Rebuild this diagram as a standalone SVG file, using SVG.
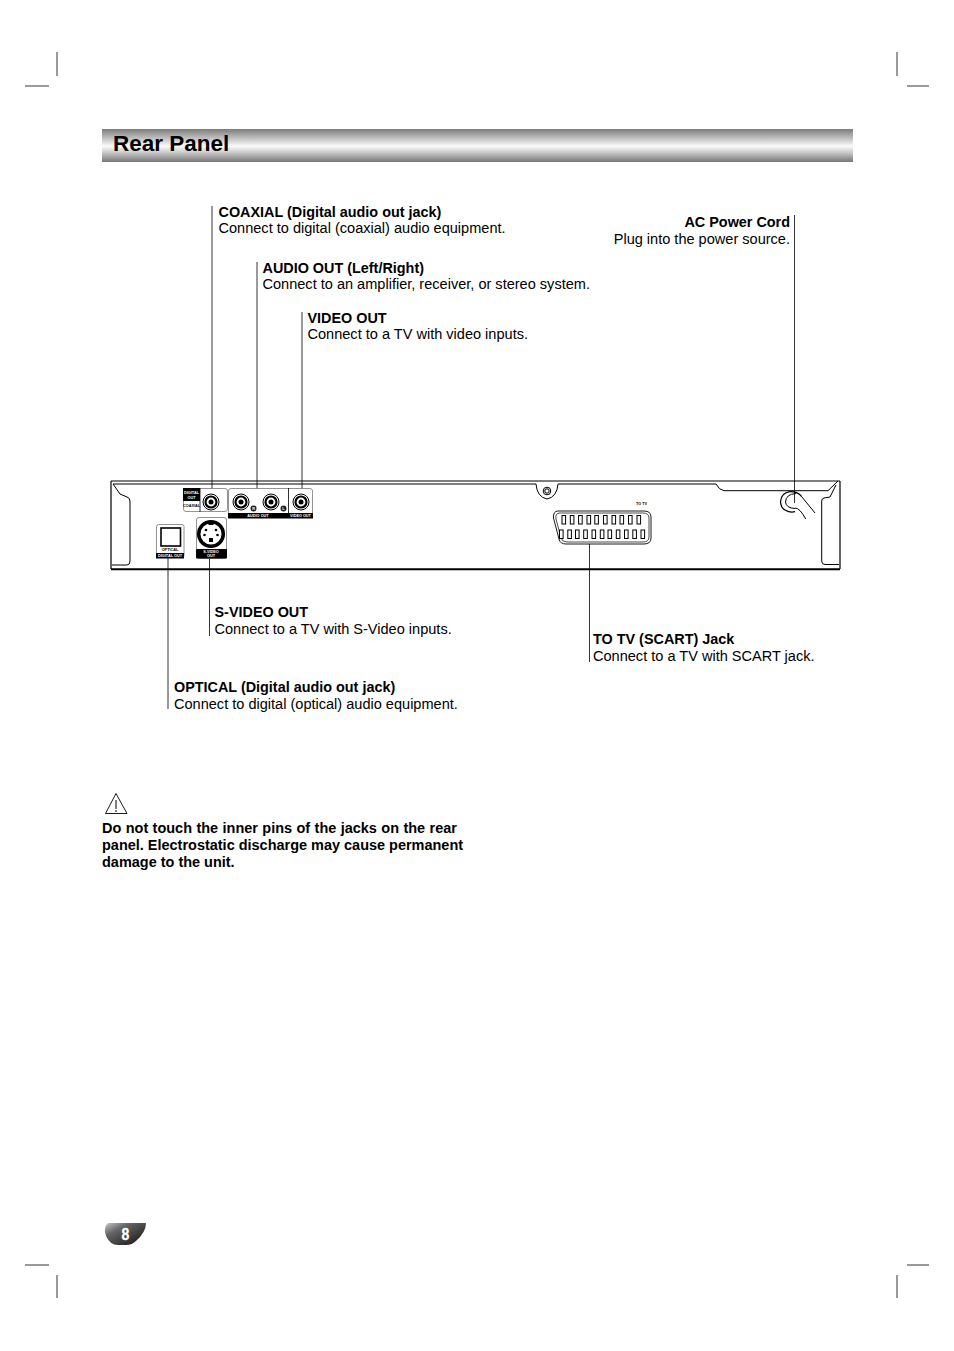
<svg xmlns="http://www.w3.org/2000/svg" width="954" height="1351" viewBox="0 0 954 1351">
<style>
text{font-family:"Liberation Sans",Arial,sans-serif;fill:#000}
.t{font-size:14.55px}
.b{font-size:14.4px;font-weight:bold}
.w{font-size:14.47px;font-weight:bold}
.r{text-anchor:end}
.crop{stroke:#000;stroke-width:.8;fill:none}
.ln{stroke:#000;stroke-width:.8;fill:none}
.o{stroke:#000;stroke-width:1;fill:none}
.lb{font-size:3.800px;font-weight:bold;text-anchor:middle}
.lw{font-size:3.800px;font-weight:bold;text-anchor:middle;fill:#fff}
.pin{fill:#fff;stroke:#000;stroke-width:1}
</style>
<defs>
<linearGradient id="bar" x1="0" y1="0" x2="0" y2="1">
<stop offset="0" stop-color="#7c7c7c"/><stop offset=".3" stop-color="#c4c4c4"/><stop offset=".52" stop-color="#fbfbfb"/><stop offset=".72" stop-color="#c8c8c8"/><stop offset="1" stop-color="#767676"/>
</linearGradient>
<linearGradient id="tab" x1="0" y1="0" x2="1" y2="1">
<stop offset="0" stop-color="#c8c8c8"/><stop offset=".3" stop-color="#666"/><stop offset=".7" stop-color="#333"/><stop offset="1" stop-color="#111"/>
</linearGradient>
<g id="jack"><circle r="8" fill="#fff" stroke="#000" stroke-width="1"/><circle r="5.500" fill="none" stroke="#000" stroke-width="2.200"/><circle r="2.500" fill="#000"/></g>
<rect id="p" class="pin" width="3.600" height="8.500"/>
</defs>

<g id="crop-marks">
<path class="crop" d="M25 86H49M57 52V76M907 86H929M897 52V76M25 1265H49M57 1275V1298M907 1265H929M897 1275V1298"/>
</g>

<g id="title">
<rect x="102" y="129" width="751" height="33" fill="url(#bar)"/>
<text x="113" y="151" font-size="22.500" font-weight="bold">Rear Panel</text>
</g>

<g id="connectors">
<path class="ln" d="M212 206V502M257 262V491M302 312V502M794.500 215V503M589.500 662V535M209.500 636V546M168 709V556"/>
</g>

<g id="rear-panel">
<path d="M111 481H840M111 481V569M840 481V569" fill="none" stroke="#000" stroke-width="1.200"/>
<path d="M111 569.300H840" stroke="#000" stroke-width="2"/>
<path class="o" d="M113 484H536Q537 497 547 499Q557 497 558 484H716Q719 490 724 490.700H828L838 481"/>
<path class="o" d="M113 484L120 494L127 497Q130 498 130 501V561Q130 565 127 565H112"/>
<path class="o" d="M836 485L830 497L824 498Q821.700 498.500 821.700 501V561Q821.700 564.500 825 564.500H839"/>
<circle cx="547" cy="491" r="3.800" class="o"/><circle cx="547" cy="491" r="2.200" class="o"/>
</g>

<g id="coaxial">
<rect x="183.500" y="488.500" width="44" height="23" rx="2.500" fill="#fff" stroke="#777" stroke-width=".8"/>
<rect x="183" y="488" width="17" height="13" fill="#000"/>
<path d="M200 488V512" class="ln"/>
<text x="191.500" y="494" class="lw">DIGITAL</text><text x="191.500" y="498.500" class="lw">OUT</text>
<text x="191.500" y="507" class="lb">COAXIAL</text>
<use href="#jack" x="211" y="502"/>
</g>

<g id="audio-out">
<rect x="228.500" y="488.500" width="84" height="29" rx="2.500" fill="#fff" stroke="#777" stroke-width=".8"/>
<rect x="228" y="513" width="85" height="5.500" fill="#000"/>
<path d="M288.500 488V513" stroke="#000" stroke-width=".8"/>
<use href="#jack" x="241" y="502"/><use href="#jack" x="271" y="502"/>
<circle cx="253.500" cy="508.500" r="3" fill="#222"/><circle cx="283.500" cy="508.500" r="3" fill="#222"/>
<text x="253.500" y="510" class="lw">R</text><text x="283.500" y="510" class="lw">L</text>
<text x="258" y="517" class="lw">AUDIO OUT</text>
</g>

<g id="video-out">
<use href="#jack" x="301" y="502"/>
<text x="300.500" y="517" class="lw">VIDEO OUT</text>
</g>

<g id="optical">
<rect x="156.500" y="524.500" width="27.500" height="33" rx="2" fill="#fff" stroke="#777" stroke-width=".8"/>
<rect x="161" y="528" width="19.500" height="18" fill="#fff" stroke="#000" stroke-width="1.600"/>
<rect x="156" y="553" width="28" height="5.500" fill="#000"/>
<text x="170" y="551" class="lb">OPTICAL</text>
<text x="170" y="557.300" class="lw">DIGITAL OUT</text>
</g>

<g id="s-video">
<rect x="196.500" y="517.500" width="30" height="41" rx="2.500" fill="#fff" stroke="#777" stroke-width=".8"/>
<rect x="196" y="549" width="31" height="9.500" rx="1" fill="#000"/>
<circle cx="211" cy="534" r="12.300" fill="#fff" stroke="#000" stroke-width="3.500"/>
<g fill="#000"><circle cx="206" cy="530" r="1.300"/><circle cx="216" cy="530" r="1.300"/><circle cx="204.500" cy="535" r="1.300"/><circle cx="217.500" cy="535" r="1.300"/><rect x="209" y="538" width="4" height="4"/></g>
<path d="M208.500 521.500H213.500V525H208.500Z" fill="#000"/>
<text x="211" y="553" class="lw">S-VIDEO</text><text x="211" y="557.300" class="lw">OUT</text>
</g>

<g id="scart">
<path d="M558 511H644Q651 511 651 517V538Q651 544 644 544H566Q560 544 559 539L553.500 518Q553 511 558 511Z" fill="#fff" stroke="#000" stroke-width=".9"/>
<path d="M560 513H643Q649 513 649 518V537Q649 542 643 542H567Q562 542 561 538L556 519Q555 513 560 513Z" fill="none" stroke="#000" stroke-width=".7"/>
<use href="#p" x="562" y="515.500"/><use href="#p" x="570.300" y="515.500"/><use href="#p" x="578.600" y="515.500"/><use href="#p" x="587" y="515.500"/><use href="#p" x="594.800" y="515.500"/><use href="#p" x="603.500" y="515.500"/><use href="#p" x="612" y="515.500"/><use href="#p" x="620" y="515.500"/><use href="#p" x="628.500" y="515.500"/><use href="#p" x="637" y="515.500"/>
<use href="#p" x="559.500" y="530"/><use href="#p" x="567.800" y="530"/><use href="#p" x="575.500" y="530"/><use href="#p" x="583.700" y="530"/><use href="#p" x="592" y="530"/><use href="#p" x="600.300" y="530"/><use href="#p" x="608" y="530"/><use href="#p" x="616.300" y="530"/><use href="#p" x="624.500" y="530"/><use href="#p" x="632.800" y="530"/><use href="#p" x="641" y="530"/>
<text x="641.500" y="504.500" class="lb">TO TV</text>
</g>

<g id="power-cord">
<path d="M801.700 496.700Q798 491.500 790 491.700Q781 493 780.500 501.700Q781 508 785 510Q790 513 795 511.700" fill="none" stroke="#000" stroke-width="1.300"/>
<path d="M796 493.500Q786 494 785.500 502Q786 508 795 508.500" fill="none" stroke="#000" stroke-width="1"/>
<path class="o" d="M801.700 496.700L815 513M795 508Q800 508 805.700 519"/>
</g>

<g id="label-coaxial"><text x="218.500" y="217" class="b">COAXIAL (Digital audio out jack)</text><text x="218.500" y="233" class="t">Connect to digital (coaxial) audio equipment.</text></g>
<g id="label-audio"><text x="262.500" y="273" class="b">AUDIO OUT (Left/Right)</text><text x="262.500" y="289" class="t">Connect to an amplifier, receiver, or stereo system.</text></g>
<g id="label-video"><text x="307.500" y="323" class="b">VIDEO OUT</text><text x="307.500" y="339" class="t">Connect to a TV with video inputs.</text></g>
<g id="label-ac"><text x="790" y="227" class="b r">AC Power Cord</text><text x="790" y="244" class="t r">Plug into the power source.</text></g>
<g id="label-svideo"><text x="214.500" y="617" class="b">S-VIDEO OUT</text><text x="214.500" y="634" class="t">Connect to a TV with S-Video inputs.</text></g>
<g id="label-scart"><text x="593" y="644" class="b">TO TV (SCART) Jack</text><text x="593" y="661" class="t">Connect to a TV with SCART jack.</text></g>
<g id="label-optical"><text x="174" y="692" class="b">OPTICAL (Digital audio out jack)</text><text x="174" y="709" class="t">Connect to digital (optical) audio equipment.</text></g>

<g id="warning">
<path d="M116 793.500L105.500 813.500H127Z" fill="#fff" stroke="#000" stroke-width=".9"/>
<path d="M116 800V809M116 810V812" stroke="#000" stroke-width="1"/>
<text x="102" y="833" class="w" word-spacing=".4">Do not touch the inner pins of the jacks on the rear</text>
<text x="102" y="850" class="w">panel. Electrostatic discharge may cause permanent</text>
<text x="102" y="867" class="w">damage to the unit.</text>
</g>

<g id="page-number">
<path d="M108 1223H146Q146 1232 136 1241Q132 1245 126 1245H118Q110 1245 106 1236Q103 1228 108 1223Z" fill="url(#tab)"/>
<text transform="translate(125.500 1239.800) scale(.85 1)" font-size="16.500" font-weight="bold" text-anchor="middle" style="fill:#fff;stroke:#fff;stroke-width:.3">8</text>
</g>
</svg>
